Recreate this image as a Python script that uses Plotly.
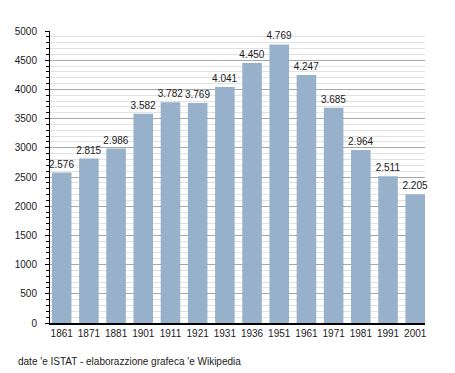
import plotly.graph_objects as go

years = ["1861", "1871", "1881", "1901", "1911", "1921", "1931", "1936", "1951", "1961", "1971", "1981", "1991", "2001"]
population = [2576, 2815, 2986, 3582, 3782, 3769, 4041, 4450, 4769, 4247, 3685, 2964, 2511, 2205]
labels = [f"{v:,}".replace(",", ".") for v in population]
y_ticks = [0, 500, 1000, 1500, 2000, 2500, 3000, 3500, 4000, 4500, 5000]
footer = "date 'e ISTAT - elaborazzione grafeca 'e Wikipedia"

fig = go.Figure(go.Bar(
    x=years, y=population, text=labels, textposition="outside",
    textfont=dict(size=10, color="#1a1a1a", family="Liberation Sans Narrow, Liberation Sans"),
    constraintext="none",
    marker=dict(color="#98b1cb", line=dict(width=0)),
    cliponaxis=False,
))
fig.update_layout(
    width=455, height=373,
    margin=dict(l=50, r=30, t=31, b=50),
    paper_bgcolor="white", plot_bgcolor="white",
    bargap=0.28, showlegend=False,
    font=dict(family="Liberation Sans", size=10, color="#1a1a1a"),
    xaxis=dict(type="category", range=[-0.43, 13.36], showline=True, linecolor="black", linewidth=1.5,
               ticks="", tickfont=dict(size=10), showgrid=False),
    yaxis=dict(range=[0, 5000], tickvals=y_ticks, showline=True, linecolor="black", linewidth=1,
               ticks="outside", ticklen=4, tickcolor="black", tickfont=dict(size=10),
               ticklabelstandoff=6,
               showgrid=True, gridcolor="#a8a8a8", gridwidth=1, zeroline=False,
               minor=dict(dtick=100, ticks="outside", ticklen=3, tickcolor="black",
                          showgrid=True, gridcolor="#e2e2e2", gridwidth=1)),
    annotations=[dict(text=footer,
                      xref="paper", yref="paper", x=0, y=0, xanchor="left", yanchor="middle",
                      xshift=-34, yshift=-38, showarrow=False, font=dict(size=10, color="#1a1a1a"))],
)
fig.write_html("out.html", config={"displayModeBar": False},
               post_script="document.body.style.margin='0';document.body.style.overflow='hidden';")
